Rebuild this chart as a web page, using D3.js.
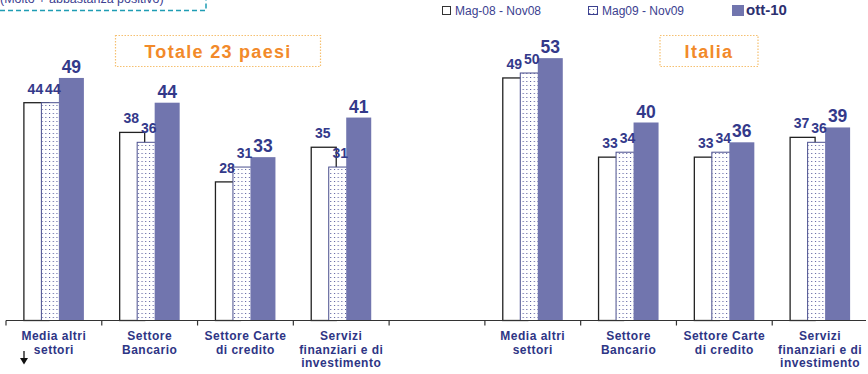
<!DOCTYPE html>
<html>
<head>
<meta charset="utf-8">
<script src="https://cdn.jsdelivr.net/npm/d3@7"></script>
<style>
  html, body { margin: 0; padding: 0; background: #fff; }
  svg { display: block; }
</style>
</head>
<body>
<svg id="chart" width="868" height="374"></svg>
<script>
// Categories along the x axis (the empty slot separates the two panels)
const categories = [
  "Media altri settori", "Settore Bancario", "Settore Carte di credito",
  "Servizi finanziari e di investimento", "",
  "Media altri settori ", "Settore Bancario ", "Settore Carte di credito ",
  "Servizi finanziari e di investimento "
];
// Line breaks for each category label
const categoryLines = [
  ["Media altri", "settori"], ["Settore", "Bancario"], ["Settore Carte", "di credito"],
  ["Servizi", "finanziari e di", "investimento"], [],
  ["Media altri", "settori"], ["Settore", "Bancario"], ["Settore Carte", "di credito"],
  ["Servizi", "finanziari e di", "investimento"]
];
const seriesNames = ["Mag-08 - Nov08", "Mag09 - Nov09", "ott-10"];
const seriesMag08 = [44, 38, 28, 35, null, 49, 33, 33, 37];
const seriesMag09 = [44, 36, 31, 31, null, 50, 34, 34, 36];
const seriesOtt10 = [49, 44, 33, 41, null, 53, 40, 36, 39];
const panelTitles = ["Totale 23 paesi", "Italia"];
const subtitle = "(Molto + abbastanza positivo)";

const seriesValues = [seriesMag08, seriesMag09, seriesOtt10];

const FONT = "'Liberation Sans', Arial, Helvetica, sans-serif";
const NAVY = "#33398a";
const BAR_DARK = "#7175ae";
const ORANGE = "#f28a2a";

const svg = d3.select("#chart");
const defs = svg.append("defs");

// Dotted fill for the middle series
const pat = defs.append("pattern")
  .attr("id", "dots").attr("patternUnits", "userSpaceOnUse")
  .attr("width", 3.7).attr("height", 4);
pat.append("rect").attr("width", 3.7).attr("height", 4).attr("fill", "#fff");
pat.append("rect").attr("x", 1).attr("y", 1).attr("width", 1).attr("height", 1).attr("fill", "#4b5095");

const baseY = 320.5;
const x = d3.scaleBand().domain(categories).range([6, 868]).padding(0);
const y = d3.scaleLinear().domain([0, 60]).range([baseY, 23.5]);
const barW = 25;
const offset = d3.scalePoint().domain(seriesNames).range([-17.5, 17.5]);

// Bars, drawn series by series so later ones overlap earlier ones
seriesNames.forEach((name, si) => {
  const vals = seriesValues[si];
  const g = svg.append("g");
  categories.forEach((cat, ci) => {
    const v = vals[ci];
    if (v == null) return;
    const cx = x(cat) + x.bandwidth() / 2 + offset(name);
    const r = g.append("rect")
      .attr("x", cx - barW / 2).attr("y", y(v))
      .attr("width", barW).attr("height", baseY - y(v));
    if (si === 0) r.attr("fill", "#fff").attr("stroke", "#222").attr("stroke-width", 1.3);
    else if (si === 1) r.attr("fill", "url(#dots)").attr("stroke", "#4a4f8e").attr("stroke-width", 1);
    else r.attr("fill", BAR_DARK);
  });
});

// Value labels
seriesNames.forEach((name, si) => {
  const vals = seriesValues[si];
  categories.forEach((cat, ci) => {
    const v = vals[ci];
    if (v == null) return;
    const cx = x(cat) + x.bandwidth() / 2 + offset(name);
    svg.append("text")
      .attr("x", cx - (si < 2 ? 1 : 0))
      .attr("y", y(v) - (si < 2 ? 9 : 5))
      .attr("text-anchor", "middle")
      .attr("font-family", FONT).attr("font-weight", "bold")
      .attr("font-size", si < 2 ? 14 : 17.5)
      .attr("fill", NAVY)
      .text(v);
  });
});

// X axis with ticks at band edges
svg.append("line").attr("x1", 6).attr("x2", 866).attr("y1", baseY).attr("y2", baseY)
  .attr("stroke", "#333").attr("stroke-width", 1.2);
categories.forEach(cat => {
  svg.append("line").attr("x1", x(cat)).attr("x2", x(cat))
    .attr("y1", baseY).attr("y2", baseY + 5).attr("stroke", "#333").attr("stroke-width", 1.2);
});

// Category labels
categories.forEach((cat, ci) => {
  const t = svg.append("text")
    .attr("text-anchor", "middle")
    .attr("font-family", FONT).attr("font-weight", "bold").attr("font-size", 12)
    .attr("letter-spacing", 0.5)
    .attr("fill", "#2e3585");
  categoryLines[ci].forEach((ln, li) => {
    t.append("tspan").attr("x", x(cat) + x.bandwidth() / 2).attr("y", 340 + li * 13.5).text(ln);
  });
});

// Small down arrow beside the first label
svg.append("line").attr("x1", 24).attr("x2", 24).attr("y1", 351).attr("y2", 359)
  .attr("stroke", "#111").attr("stroke-width", 1.3);
svg.append("path").attr("d", "M20,358 L28,358 L24,364.5 Z").attr("fill", "#111");

// Panel titles in dotted boxes
const titleBoxes = [
  { x0: 115.5, x1: 320.5, cx: 218 },
  { x0: 660, x1: 758, cx: 709 }
];
panelTitles.forEach((title, i) => {
  const b = titleBoxes[i];
  svg.append("rect").attr("x", b.x0).attr("y", 35.5).attr("width", b.x1 - b.x0).attr("height", 31)
    .attr("fill", "none").attr("stroke", "#f6c070").attr("stroke-width", 1.2)
    .attr("stroke-dasharray", "1.5,1.5");
  svg.append("text").attr("x", b.cx).attr("y", 58).attr("text-anchor", "middle")
    .attr("font-family", FONT).attr("font-weight", "bold").attr("font-size", 18)
    .attr("letter-spacing", 1.3).attr("fill", ORANGE).text(title);
});

// Subtitle box at top left
svg.append("path").attr("d", "M0,10.5 H206 V-5")
  .attr("fill", "none").attr("stroke", "#1f9db4").attr("stroke-width", 1.5)
  .attr("stroke-dasharray", "5,3");
svg.append("text").attr("x", 0).attr("y", 3).attr("font-family", FONT).attr("font-size", 12.5)
  .attr("fill", "#3d4191").text(subtitle);

// Legend
const legend = [
  { x: 442, tx: 455, size: 12, bold: false },
  { x: 588, tx: 602, size: 12, bold: false },
  { x: 732, tx: 746, size: 15, bold: true }
];
seriesNames.forEach((name, i) => {
  const L = legend[i];
  const r = svg.append("rect");
  if (i === 0) r.attr("x", L.x + 0.5).attr("y", 6.5).attr("width", 8).attr("height", 8)
    .attr("fill", "#fff").attr("stroke", "#333").attr("stroke-width", 1);
  else if (i === 1) r.attr("x", L.x + 0.5).attr("y", 6.5).attr("width", 9).attr("height", 8)
    .attr("fill", "url(#dots)").attr("stroke", "#3b4190").attr("stroke-width", 1);
  else r.attr("x", L.x).attr("y", 5).attr("width", 12).attr("height", 11).attr("fill", BAR_DARK);
  svg.append("text").attr("x", L.tx).attr("y", 15)
    .attr("font-family", FONT).attr("font-size", L.size)
    .attr("font-weight", L.bold ? "bold" : "normal")
    .attr("fill", L.bold ? "#2c2f6f" : "#3b4190").text(name);
});
</script>
</body>
</html>
